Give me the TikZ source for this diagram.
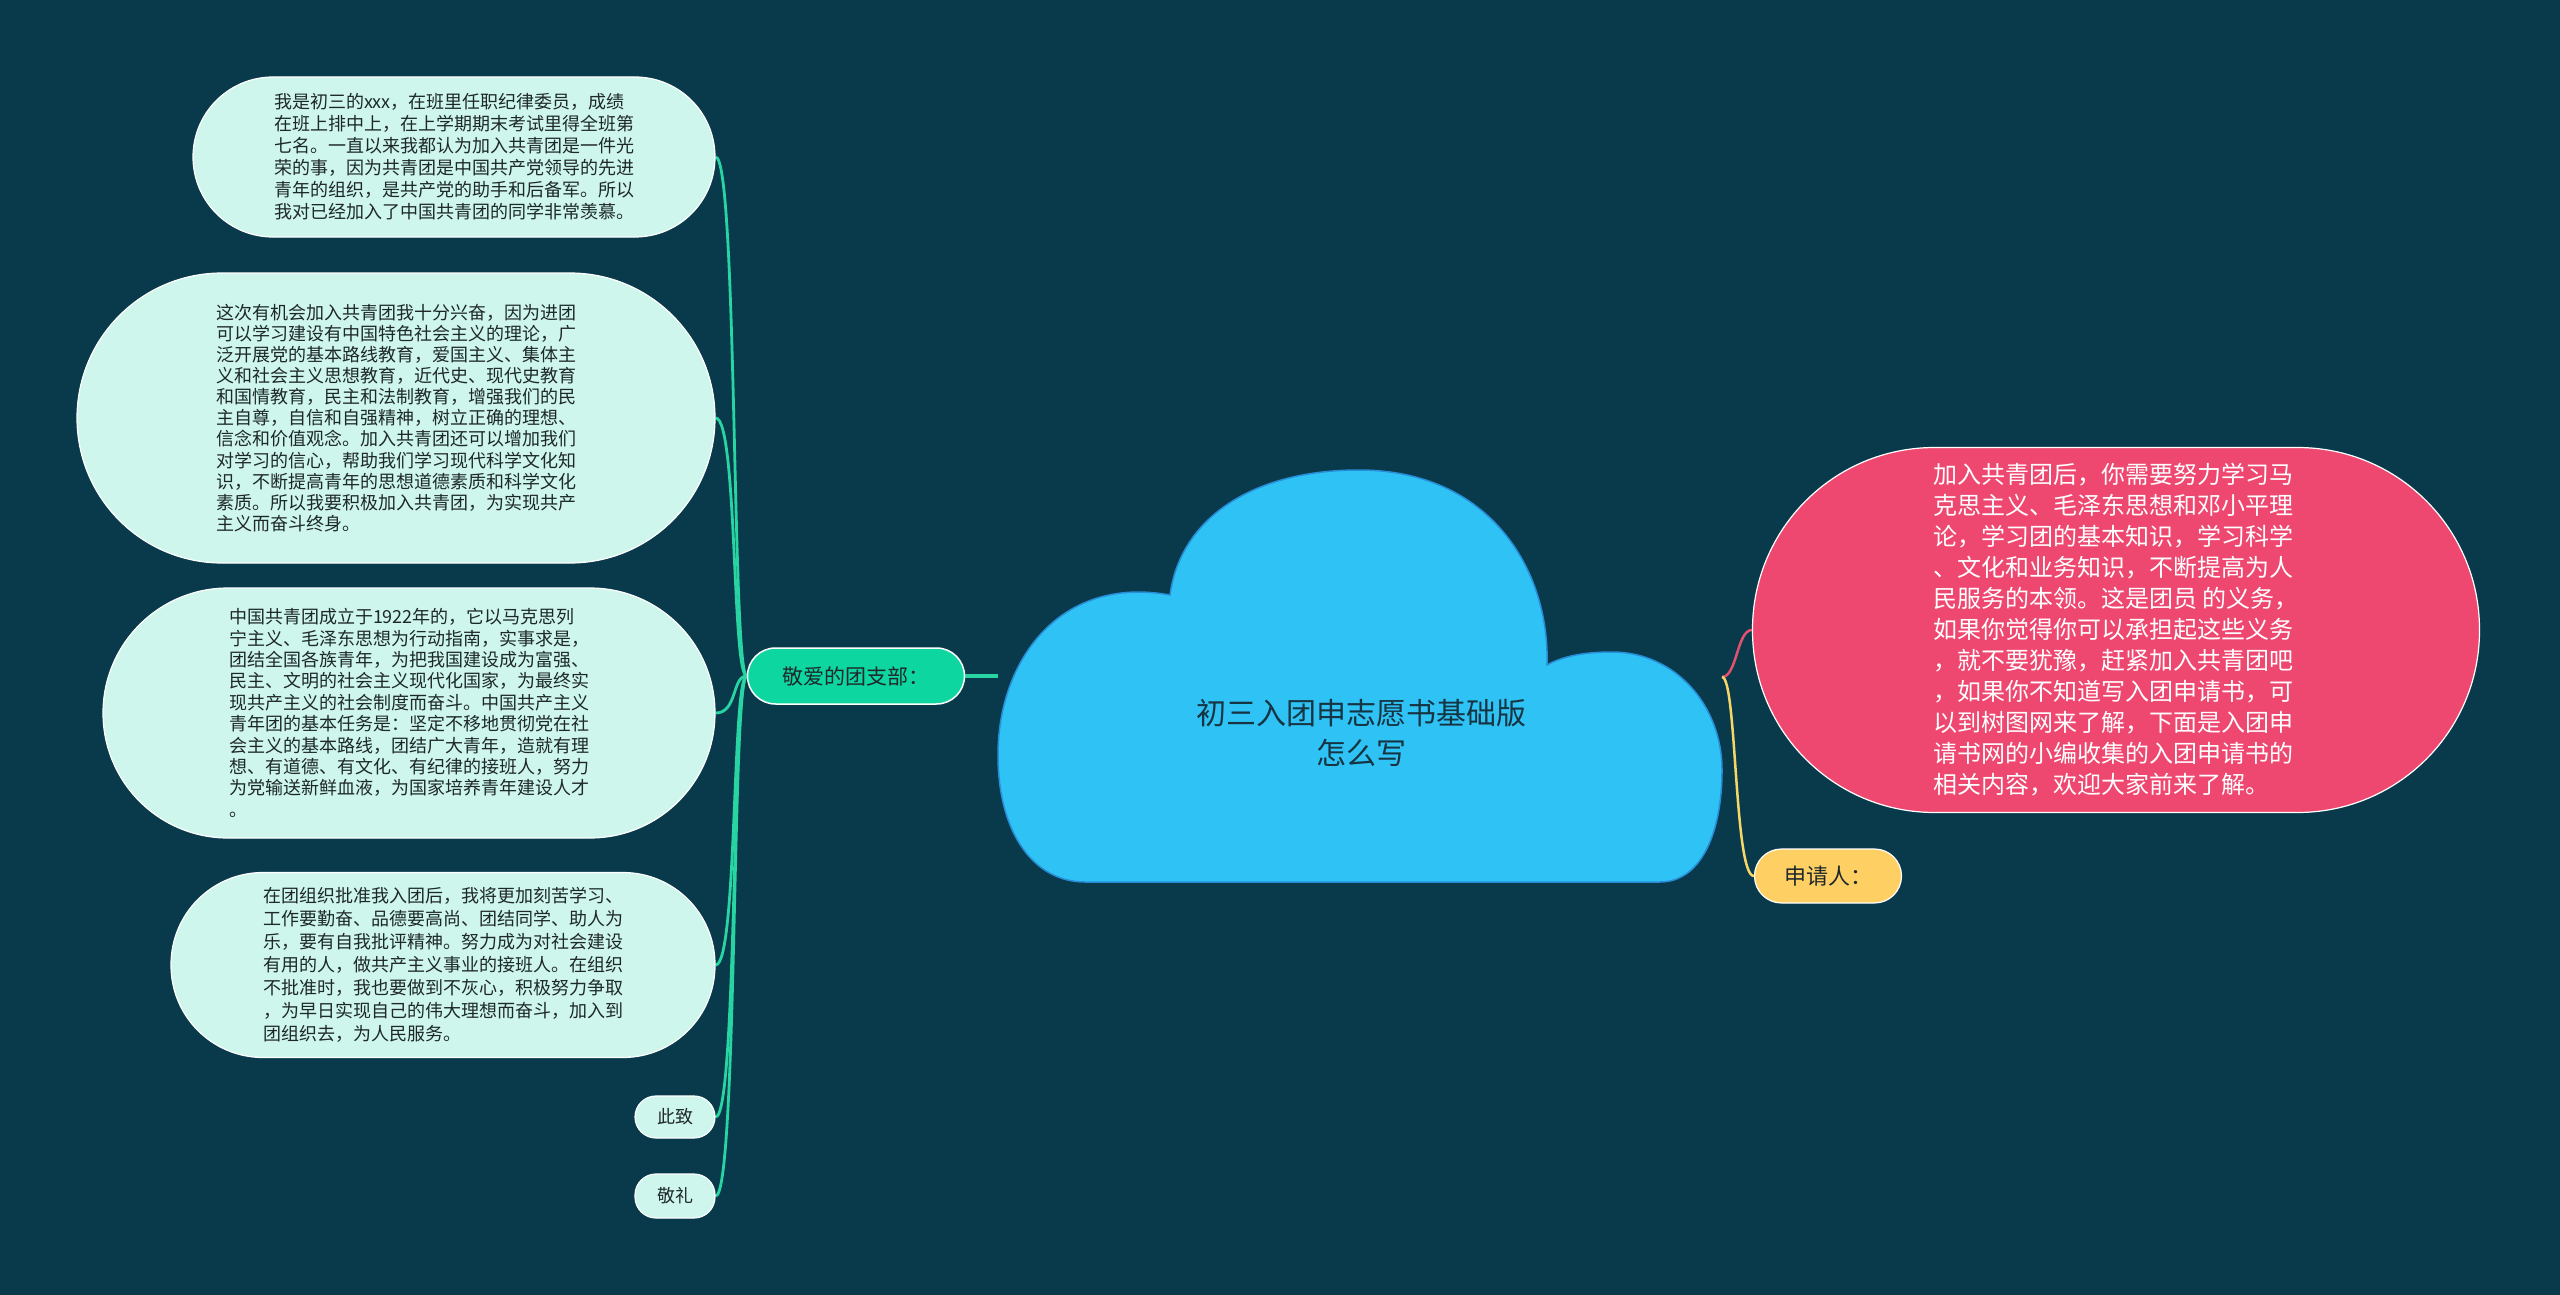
\documentclass[tikz,border=0pt]{standalone}
\usepackage{fontspec}
\setmainfont{Noto Sans CJK SC}
\definecolor{bgc}{RGB}{8,58,76}
\definecolor{mint}{RGB}{206,246,237}
\definecolor{darktext}{RGB}{30,40,42}
\definecolor{greenbox}{RGB}{14,214,160}
\definecolor{greenline}{RGB}{40,212,162}
\definecolor{cloudfill}{RGB}{47,195,245}
\definecolor{clouddraw}{RGB}{40,140,215}
\definecolor{cloudtext}{RGB}{22,52,66}
\definecolor{pinkbox}{RGB}{238,72,112}
\definecolor{pinkline}{RGB}{226,82,112}
\definecolor{yellowbox}{RGB}{254,208,100}
\definecolor{yellowline}{RGB}{246,214,102}
\pgfdeclarelayer{back}
\pgfsetlayers{back,main}
\begin{document}
\begin{tikzpicture}[x=1pt,y=-1pt,
  leftbox/.style={draw=white, line width=1.2pt, fill=mint, text=darktext, inner sep=0pt, align=left},
  smallbox/.style={draw=white, line width=1.2pt, fill=mint, text=darktext, inner sep=0pt, align=center,
     minimum width=80pt, rounded corners=21pt, font=\fontsize{18pt}{22pt}\selectfont},
  greenlink/.style={draw=greenline, line width=2.8pt},
]
\begin{pgfonlayer}{back}
\fill[bgc] (0,0) rectangle (2560,1295);
\end{pgfonlayer}
\useasboundingbox (0,0) rectangle (2560,1295);

% cloud
\path[fill=cloudfill, draw=clouddraw, line width=1.5pt]
  (1085,882) -- (1660,882)
  .. controls (1700,882) and (1722,835) .. (1722,770)
  .. controls (1722,705) and (1675,652) .. (1612,652)
  .. controls (1588,652) and (1565,655) .. (1547,665)
  .. controls (1550,570) and (1490,470) .. (1359,470)
  .. controls (1250,470) and (1180,520) .. (1170,595)
  .. controls (1060,575) and (998,660) .. (998,755)
  .. controls (998,835) and (1035,882) .. (1085,882) -- cycle;
\coordinate (cl) at (998,676);
\coordinate (cr) at (1722,677);
\node[text=cloudtext, align=center, font=\fontsize{30pt}{40pt}\selectfont] (title) at (1361,733)
  {初三入团申志愿书基础版\\怎么写};

% left nodes
\node[leftbox, minimum width=522pt, minimum height=160pt, rounded corners=80pt,
      font=\fontsize{18pt}{22pt}\selectfont] (n1) at (454,157)
{我是初三的xxx，在班里任职纪律委员，成绩\\
在班上排中上，在上学期期末考试里得全班第\\
七名。一直以来我都认为加入共青团是一件光\\
荣的事，因为共青团是中国共产党领导的先进\\
青年的组织，是共产党的助手和后备军。所以\\
我对已经加入了中国共青团的同学非常羡慕。};

\node[leftbox, minimum width=638pt, minimum height=290pt, rounded corners=145pt,
      font=\fontsize{18pt}{21.1pt}\selectfont] (n2) at (396,418)
{这次有机会加入共青团我十分兴奋，因为进团\\
可以学习建设有中国特色社会主义的理论，广\\
泛开展党的基本路线教育，爱国主义、集体主\\
义和社会主义思想教育，近代史、现代史教育\\
和国情教育，民主和法制教育，增强我们的民\\
主自尊，自信和自强精神，树立正确的理想、\\
信念和价值观念。加入共青团还可以增加我们\\
对学习的信心，帮助我们学习现代科学文化知\\
识，不断提高青年的思想道德素质和科学文化\\
素质。所以我要积极加入共青团，为实现共产\\
主义而奋斗终身。};

\node[leftbox, minimum width=612pt, minimum height=250pt, rounded corners=125pt,
      font=\fontsize{18pt}{21.4pt}\selectfont] (n3) at (409,713)
{中国共青团成立于1922年的，它以马克思列\\
宁主义、毛泽东思想为行动指南，实事求是，\\
团结全国各族青年，为把我国建设成为富强、\\
民主、文明的社会主义现代化国家，为最终实\\
现共产主义的社会制度而奋斗。中国共产主义\\
青年团的基本任务是：坚定不移地贯彻党在社\\
会主义的基本路线，团结广大青年，造就有理\\
想、有道德、有文化、有纪律的接班人，努力\\
为党输送新鲜血液，为国家培养青年建设人才\\
。};

\node[leftbox, minimum width=544pt, minimum height=185pt, rounded corners=92pt,
      font=\fontsize{18pt}{23pt}\selectfont] (n4) at (443,965)
{在团组织批准我入团后，我将更加刻苦学习、\\
工作要勤奋、品德要高尚、团结同学、助人为\\
乐，要有自我批评精神。努力成为对社会建设\\
有用的人，做共产主义事业的接班人。在组织\\
不批准时，我也要做到不灰心，积极努力争取\\
，为早日实现自己的伟大理想而奋斗，加入到\\
团组织去，为人民服务。};

\node[smallbox, minimum height=42pt] (n5) at (675,1117) {此致};
\node[smallbox, minimum height=44pt] (n6) at (675,1196) {敬礼};

% branch node
\node[draw=white, line width=1.5pt, fill=greenbox, text=darktext, inner sep=0pt,
      minimum width=217pt, minimum height=56pt, rounded corners=28pt,
      font=\fontsize{21pt}{25pt}\selectfont] (b1) at (856,676) {敬爱的团支部：};

% right nodes
\node[draw=white, line width=1.2pt, fill=pinkbox, text=white, inner sep=0pt, align=left,
      minimum width=727pt, minimum height=365pt, rounded corners=182pt,
      font=\fontsize{24pt}{31pt}\selectfont] (p1) at (2116,630)
{加入共青团后，你需要努力学习马\\
克思主义、毛泽东思想和邓小平理\\
论，学习团的基本知识，学习科学\\
、文化和业务知识，不断提高为人\\
民服务的本领。这是团员 的义务，\\
如果你觉得你可以承担起这些义务\\
，就不要犹豫，赶紧加入共青团吧\\
，如果你不知道写入团申请书，可\\
以到树图网来了解，下面是入团申\\
请书网的小编收集的入团申请书的\\
相关内容，欢迎大家前来了解。};

\node[draw=white, line width=1.2pt, fill=yellowbox, text=darktext, inner sep=0pt,
      minimum width=147pt, minimum height=54pt, rounded corners=27pt,
      font=\fontsize{22pt}{26pt}\selectfont] (y1) at (1828,876) {申请人：};

% connectors
\begin{pgfonlayer}{back}
\foreach \t in {n1,n2,n3,n4,n5,n6}{
  \draw[greenlink] (b1.west) .. controls +(-15,0) and +(22,0) .. (\t.east);
}
\draw[draw=greenline, line width=4pt] (b1.east) -- (cl);
\draw[draw=pinkline, line width=2.5pt] (cr) .. controls +(15,0) and +(-15,0) .. (p1.west);
\draw[draw=yellowline, line width=2.5pt] (cr) .. controls +(15,0) and +(-20,0) .. (y1.west);
\end{pgfonlayer}
\end{tikzpicture}
\end{document}
